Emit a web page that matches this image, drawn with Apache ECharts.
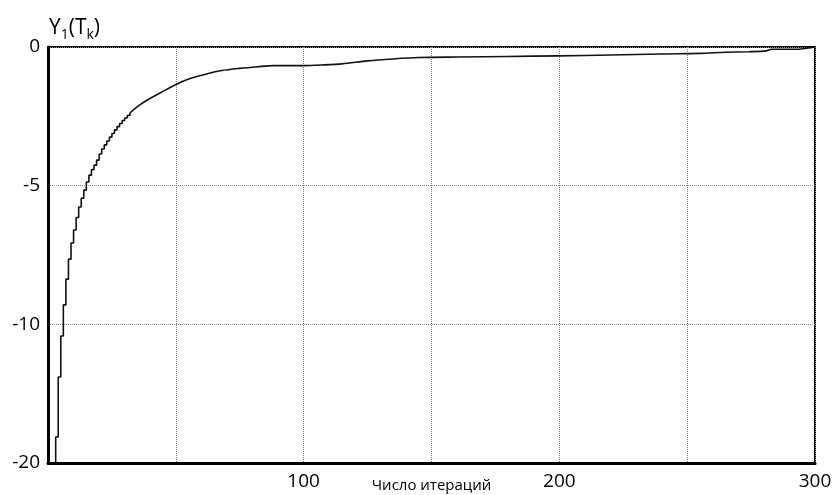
<!DOCTYPE html>
<html>
<head>
<meta charset="utf-8">
<script src="https://cdn.jsdelivr.net/npm/echarts@6/dist/echarts.min.js"></script>
<style>
html,body{margin:0;padding:0;background:#fff;}
#chart{width:833px;height:495px;}
</style>
</head>
<body>
<div id="chart"></div>
<script>
// Early iterations: staircase levels (value held from this iteration onward)
var stepIter = [3, 3, 4, 5, 6, 7, 8, 9, 10, 11, 12, 13, 14, 15, 16, 17, 18, 19, 20, 21, 22, 23, 24, 25, 26, 27, 28, 29, 30, 31, 32];
var stepVals = [-16, -14.06, -11.90, -10.42, -9.30, -8.37, -7.65, -7.07, -6.60, -6.15, -5.77, -5.45, -5.16, -4.87, -4.62, -4.42, -4.26, -4.08, -3.86, -3.68, -3.53, -3.39, -3.25, -3.12, -2.99, -2.87, -2.76, -2.65, -2.56, -2.47, -2.38];
// Later iterations: smooth part of the curve
var smoothIter = [32, 35, 37, 40, 44, 50, 55, 62, 68, 75, 82, 88, 95, 100, 107, 115, 125, 135, 145, 160, 180, 200, 220, 240, 255, 265, 274, 281, 283, 293, 296, 299, 300];
var smoothVals = [-2.38, -2.15, -2.02, -1.85, -1.65, -1.35, -1.15, -0.97, -0.85, -0.77, -0.71, -0.67, -0.67, -0.67, -0.65, -0.61, -0.50, -0.43, -0.38, -0.36, -0.34, -0.32, -0.29, -0.25, -0.23, -0.19, -0.17, -0.14, -0.08, -0.08, -0.05, -0.02, 0];
var xTickLabels = [100, 200, 300];
var yTickLabels = {"0": "0", "-5": "-5", "-10": "-10", "-15": "-20"};
var xName = "Число итераций";

function pairs(xs, ys) { return xs.map(function (x, i) { return [x, ys[i]]; }); }

var chart = echarts.init(document.getElementById('chart'), null, {renderer: 'canvas'});
var FONT = '"Open Sans", "Liberation Sans", sans-serif';
chart.setOption({
  animation: false,
  backgroundColor: '#fff',
  title: {
    left: 44, top: 9,
    text: '{a|Y}{s|1}{a|(T}{s|k}{a|)}',
    textStyle: {
      fontWeight: 'normal',
      rich: {
        a: {fontSize: 21, fontFamily: FONT, fontWeight: 'normal', color: '#000', lineHeight: 28},
        s: {fontSize: 14, fontFamily: FONT, fontWeight: 'normal', color: '#000', lineHeight: 15, verticalAlign: 'bottom'}
      }
    }
  },
  grid: {left: 48, right: 18, top: 47, bottom: 32, containLabel: false, outerBoundsMode: 'none',
         show: true, borderColor: '#000', borderWidth: 2, backgroundColor: 'transparent'},
  xAxis: {
    type: 'value', min: 0, max: 300, interval: 50,
    name: xName, nameLocation: 'middle', nameGap: 15, nameMoveOverlap: false,
    nameTextStyle: {fontSize: 15, fontFamily: FONT, color: '#000'},
    axisLine: {show: true, onZero: false, lineStyle: {color: '#000', width: 3}},
    axisTick: {show: false},
    axisLabel: {
      fontSize: 19, fontFamily: FONT, color: '#000', margin: 9,
      formatter: function (v) { return xTickLabels.indexOf(v) >= 0 ? String(v) : ''; }
    },
    splitLine: {show: true, lineStyle: {color: '#888', width: 1, type: [1, 1]}}
  },
  yAxis: {
    type: 'value', min: -15, max: 0, interval: 5,
    axisLine: {show: true, onZero: false, lineStyle: {color: '#000', width: 3}},
    axisTick: {show: false},
    axisLabel: {
      fontSize: 19, fontFamily: FONT, color: '#000', margin: 8,
      formatter: function (v) { return yTickLabels[String(v)] || ''; }
    },
    splitLine: {show: true, lineStyle: {color: '#888', width: 1, type: [1, 1]}}
  },
  series: [
    {
      type: 'line', step: 'end', showSymbol: false, clip: true,
      data: pairs(stepIter, stepVals),
      lineStyle: {color: '#111', width: 1.6}
    },
    {
      type: 'line', smooth: 0.3, showSymbol: false, clip: true,
      data: pairs(smoothIter, smoothVals),
      lineStyle: {color: '#111', width: 1.6}
    }
  ]
});
</script>
</body>
</html>
